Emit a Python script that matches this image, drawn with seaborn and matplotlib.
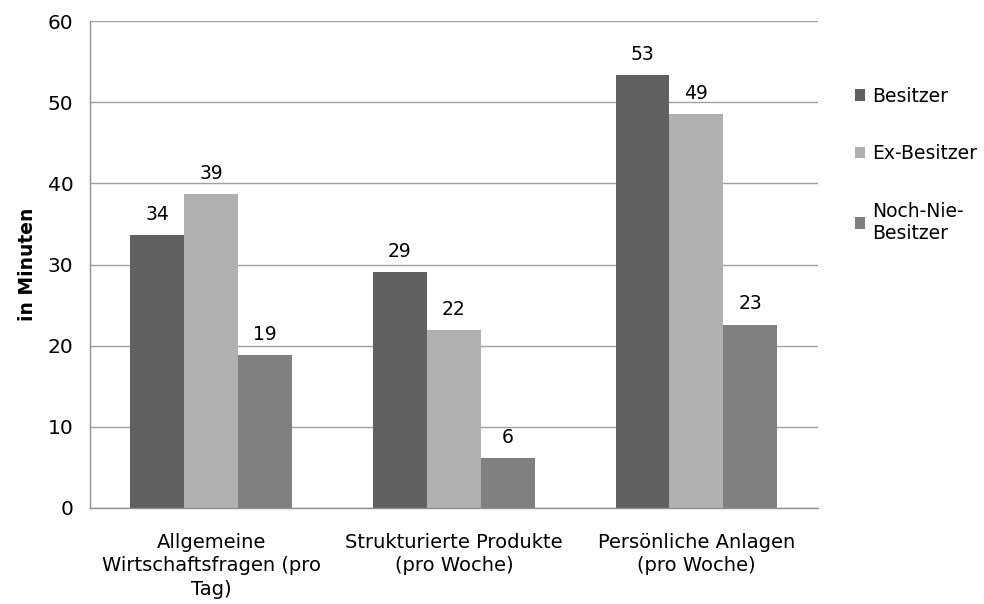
import matplotlib
matplotlib.use("Agg")
import matplotlib.pyplot as plt
import seaborn as sns
import pandas as pd
import numpy as np

# data
categories = ["Allgemeine\nWirtschaftsfragen (pro\nTag)",
              "Strukturierte Produkte\n(pro Woche)",
              "Persönliche Anlagen\n(pro Woche)"]
groups = ["Besitzer", "Ex-Besitzer", "Noch-Nie-\nBesitzer"]
besitzer = [33.6, 29.1, 53.4]
ex_besitzer = [38.7, 21.9, 48.6]
noch_nie = [18.9, 6.2, 22.6]
colors = ["#606060", "#b0b0b0", "#808080"]

df = pd.DataFrame({
    "Kategorie": categories * 3,
    "Gruppe": [groups[0]] * 3 + [groups[1]] * 3 + [groups[2]] * 3,
    "Minuten": besitzer + ex_besitzer + noch_nie,
})

sns.set_style("white")
plt.rcParams["font.family"] = ["DejaVu Sans"]
plt.rcParams["text.color"] = "black"

fig = plt.figure(figsize=(9.84, 6.04), dpi=100)
ax = fig.add_axes([0.0915, 0.159, 0.7395, 0.806])

sns.barplot(data=df, x="Kategorie", y="Minuten", hue="Gruppe",
            palette=colors, width=0.667, saturation=1, ax=ax,
            edgecolor="none", linewidth=0)

for c in ax.containers:
    ax.bar_label(c, fmt="%.0f", padding=8, fontsize=13.5, color="black")

ax.set_ylim(0, 60)
ax.set_yticks(np.arange(0, 61, 10))
ax.set_xlim(-0.5, 2.5)
ax.yaxis.grid(True, color="#a0a0a0", linewidth=1)
ax.set_axisbelow(True)

for s in ["top", "right"]:
    ax.spines[s].set_visible(False)
for s in ["left", "bottom"]:
    ax.spines[s].set_color("#909090")
    ax.spines[s].set_linewidth(1)

ax.tick_params(axis="y", length=6, width=1, color="#909090", labelsize=14.5,
               pad=6, labelcolor="black")
ax.tick_params(axis="x", which="major", length=0, labelsize=14, pad=18,
               labelcolor="black")
for t in ax.get_xticklabels():
    t.set_linespacing(1.3)
ax.set_xticks([-0.5, 0.5, 1.5, 2.5], minor=True)
ax.tick_params(axis="x", which="minor", length=6, width=1, color="#909090")

ax.set_xlabel("")
ax.set_ylabel("in Minuten", fontsize=13.5, fontweight="bold", labelpad=8,
              color="black")

leg = ax.legend(loc="upper left", bbox_to_anchor=(1.028, 0.9), frameon=False,
                fontsize=13.5, handlelength=0.55, handleheight=0.55,
                handletextpad=0.35, labelspacing=2.05)

fig.savefig("out.png", dpi=100)
